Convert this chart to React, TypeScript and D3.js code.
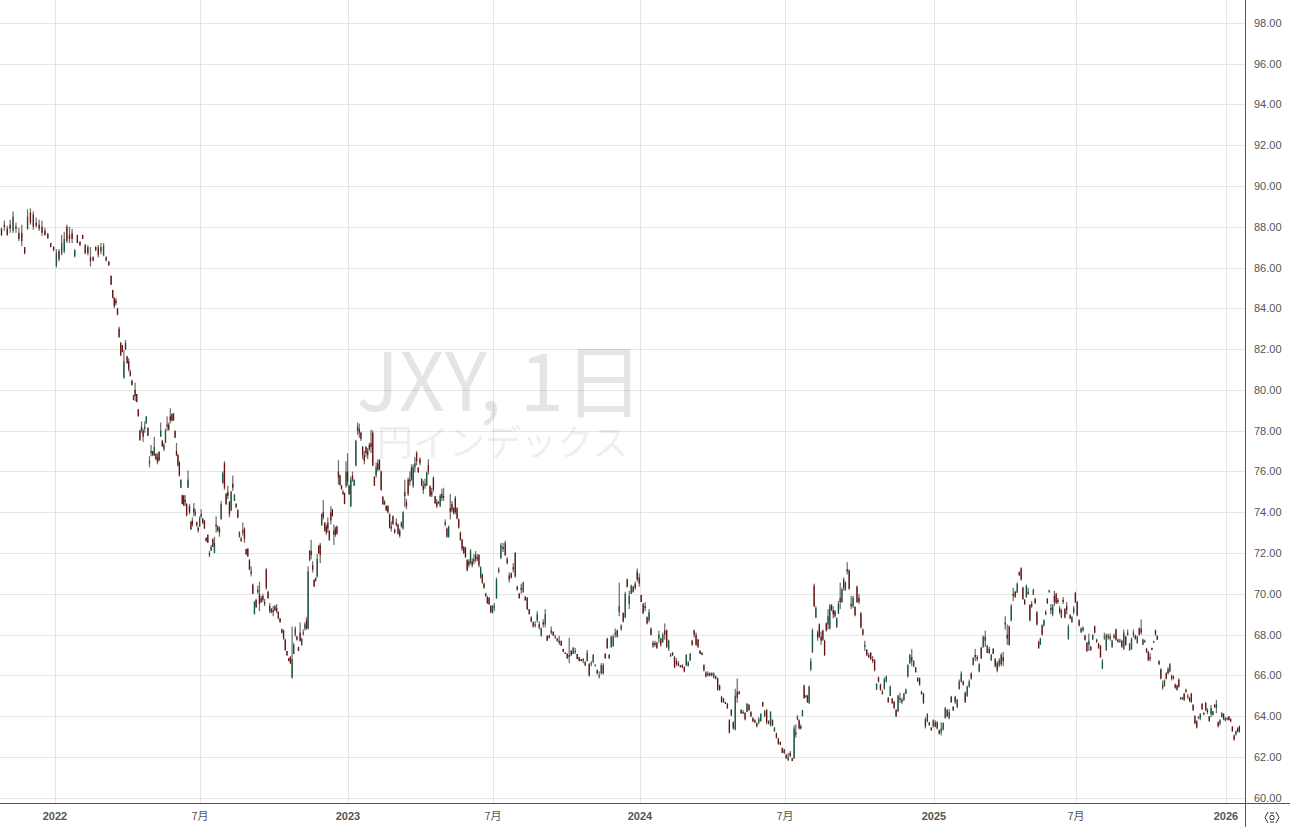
import React from "react";
import * as d3 from "d3";

// Each row: [high, low, open, close]
type Bar = number[];

const late2021: Bar[] = [[87.95,87.55,87.9,87.6],[88.3,87.8,88.1,88],[88.05,87.55,87.9,87.6],[88.35,87.7,88.1,87.9],[88.75,87.7,87.8,88.5],[88.2,87.7,88,87.9],[87.95,87.3,87.7,87.4],[88.1,87.05,87.7,87.3],[87,86.65,87,86.7],[88.85,87.85,87.9,88.5],[88.9,88.1,88.7,88.2],[88.75,87.85,88.6,88],[88.45,87.95,88.2,88.05],[88.35,87.8,88.1,87.9],[88.3,87.55,88,87.7],[87.95,87.55,87.8,87.6],[87.7,87.4,87.65,87.45],[87.2,87,87.2,87],[87.05,86.8,87,86.85]];

const h1of2022: Bar[] = [[86.9,86,86.1,86.7],[86.9,86.3,86.8,86.4],[87.6,86.6,86.7,87.2],[87.75,86.7,86.8,87.4],[88.1,87.2,88,87.3],[88,87.2,87.6,87.4],[87.9,87.2,87.7,87.4],[86.9,86.5,86.55,86.85],[87.6,87.2,87.6,87.2],[87.3,87.05,87.25,87.1],[87.6,87.4,87.6,87.4],[87.15,86.65,87.1,86.7],[87.1,86.6,87,86.7],[87,86.05,86.5,86.3],[86.55,86.3,86.5,86.35],[87.05,86.8,87,86.85],[87.1,86.5,87,86.6],[87.2,86.65,86.8,87],[87.2,86.55,86.6,87.05],[86.55,86.3,86.5,86.35],[86.3,86.1,86.3,86.1],
[85.6,85.15,85.6,85.15],[84.9,84.5,84.9,84.5],[84.55,84,84.5,84.1],[84.5,84.15,84.4,84.25],[84,83.65,84,83.7],[83.1,82.55,83,82.6],[82.35,81.65,82.3,81.7],[82.2,81.85,82.2,81.85],[81.95,80.55,80.6,81.4],[82.45,81.95,82.3,82],[81.65,81.3,81.65,81.3],[81.55,80.9,81.4,81],[81,80.65,80.9,80.7],[80.5,80.2,80.45,80.25],[79.75,79.5,79.5,79.75],[80.35,79.45,80,79.7],[79.8,79.4,79.8,79.4],[79.05,78.7,79.05,78.7],[78.05,77.5,78,77.55],[78.45,77.9,78.2,78],[78.1,77.45,78,77.7],[78.45,77.9,78.1,78.2],[78.7,78.35,78.35,78.7],[78.15,77.75,78.15,77.75],[76.75,76.2,76.4,76.5],[77.3,76.75,76.9,77],[77,76.75,77,76.8],[77.7,76.75,76.8,77.2],[76.9,76.55,76.85,76.6],[76.9,76.35,76.7,76.45],[77,76.5,76.95,76.55],[78.4,77.7,77.7,78],[77.55,77.2,77.5,77.25],[77.4,77,77.1,77.3],[78.1,77.4,77.4,78],[78.7,78,78.2,78.3],[78.4,78,78.3,78.05],[79.1,78.35,78.7,78.5],[78.85,78.45,78.8,78.5],[78.85,78.5,78.85,78.5],
[78,77.65,78,77.65],[77.4,76.75,77,76.8],[76.85,76.25,76.8,76.3],[76.5,75.75,76.45,75.8],[75.6,75.2,75.2,75.6],[74.85,74.4,74.85,74.4],[74.85,74.3,74.8,74.35],[74.85,74.3,74.6,74.5],[74.45,73.8,74.4,73.85],[76.05,75.2,75.2,75.6],[74.4,73.9,74.3,74],[73.55,73.15,73.55,73.15],[73.75,73.3,73.6,73.4],[74.45,73.8,74.2,74],[74.15,73.8,74,73.9],[73.55,73.3,73.5,73.35],[73.3,73,73.25,73.1],[73.8,73.3,73.3,73.7]];

const h2of2022: Bar[] = [[74.15,73.7,73.9,73.8],[73.7,73.45,73.7,73.45],[73.6,73.2,73.6,73.2],[72.75,72.55,72.75,72.6],[72.9,72.5,72.9,72.5],[72.1,71.8,71.9,72],[72.4,72.1,72.1,72.3],[72.7,72.3,72.7,72.3],[72.8,72,72,72.5],[73.8,73,73.4,73.3],[73.35,73.05,73.3,73.1],[73.3,72.8,73.2,73],[74.55,73.65,73.65,74.4],[76,75.4,75.45,75.9],[76.5,75.1,76.4,75.2],[74.95,74.35,74.9,74.4],[75.3,74.65,75,74.8],[74.55,73.75,74.5,73.9],[75.05,74.05,74.1,75],[75.8,75.05,75.4,75.2],[74.9,74.55,74.55,74.85],[74.45,74.2,74.4,74.25],[74.15,73.7,74.1,73.75],[73.05,72.75,72.8,73.05],[72.8,72.55,72.7,72.6],[73.5,72.85,73.1,73],[73.25,72.5,73.2,72.7],[72.2,71.9,72.2,71.95],[72.25,71.8,72.2,71.85],[71.7,71.15,71.65,71.2],[71.35,70.85,71.1,71],[70.5,70,70.45,70],[69.65,69,69,69.6],[69.75,69.3,69.7,69.35],[70.4,70,70.2,70.1],[70.6,69.15,70,69.5],
[69.9,69.55,69.8,69.6],[70,69.6,69.9,69.7],[69.75,69.4,69.6,69.5],[71.25,70.2,71.2,70.3],[70.15,69.75,70.1,69.8],[69.55,69.05,69.4,69.15],[69.3,69.05,69.25,69.1],[69.4,68.9,69.2,69.1],[69.45,69.15,69.4,69.2],[69.5,69.05,69.3,69.15],[69.15,68.75,69.1,68.8],[68.8,68.6,68.8,68.6],[68.3,68.05,68.25,68.1],[68.25,67.75,68.2,67.8],[67.8,67.2,67.75,67.25],[67.2,66.95,67.2,67],[66.85,66.7,66.85,66.7],[66.95,66.55,66.9,66.6],[68.4,65.85,65.9,66.8],[67.6,67.05,67.05,67.5],[68.4,67.9,68,68.3],[67.95,67.7,67.9,67.75],[67.4,67.2,67.4,67.2],[68.6,67.65,68.1,67.7],[67.85,67.45,67.5,67.8],[68.25,67.95,68.1,68.05],[68.6,68.2,68.3,68.5],[68.85,68.25,68.7,68.3],[71.35,68.25,68.3,71.1],[72.15,71.6,71.65,72.1],[72.65,71.7,72.1,71.9],[71.6,71.05,71.4,71.2],[70.7,70.35,70.7,70.35],[70.8,70.6,70.65,70.8],[71.95,70.8,70.85,71.7],[72.4,71.95,72.35,72],[72.5,71.5,72.4,71.9],[73.95,73.35,73.35,73.9],[74.6,73.65,74,73.75],[73.5,73.05,73.5,73.1],[73.4,72.9,73.3,73],[73.75,73,73.5,73.2],[73.1,72.6,73.1,72.65],[74.3,73.4,74,73.6],[74.15,73.8,74.15,73.8],[73.4,72.4,73.1,72.9],[73.3,72.8,73.2,72.9],[73.35,72.9,73.3,72.95],[76.55,75.35,76,75.7],[75.85,75.3,75.8,75.35],[75.35,75.1,75.3,75.15],[75.1,74.85,75,74.9],[74.95,74.4,74.95,74.4],[76.5,75.2,75.3,76],[76.9,75.3,76,75.5]];

const h1of2023: Bar[] = [[75.35,74.85,75.3,74.9],[75.75,74.25,74.3,75.6],[76,75.5,75.8,75.6],[75.6,75.3,75.3,75.6],[77.55,76.25,76.3,77.5],[78.4,77.8,78,78.2],[78.35,77.65,78.1,77.9],[77.95,77.5,77.9,77.6],[77.25,76.6,77.2,76.8],[77,76.35,76.8,76.5],[77.25,76.7,77.2,76.9],[77.15,76.6,77,76.8],[77.4,77,77.3,77.1],[78.05,76.9,77.4,77.2],[78,76.25,77.9,76.3],[75.75,75.3,75.75,75.3],[76.45,75.7,75.8,76.2],[76.6,76,76.4,76.1],[76.6,76.05,76.55,76.1],[76.05,75.05,76,75.1],[74.8,74.35,74.75,74.4],[74.6,74.35,74.5,74.4],[74.35,74.05,74.3,74.1],[74.35,73.95,74.3,74],[73.95,73.2,73.9,73.25],[73.55,73.05,73.3,73.2],[73.85,73.4,73.8,73.4],[73.2,72.95,73.15,73],[73.7,73.3,73.5,73.4],[73.45,72.9,73.4,72.95],[73.2,72.75,73.1,72.85],
[73.55,73.25,73.3,73.5],[74.05,73.15,73.2,74],[75.6,74.25,75,74.8],[74.65,74.15,74.5,74.3],[75.7,74.8,75.6,74.9],[76,75.3,75.6,75.5],[76.35,75.55,76.2,75.6],[76.35,75.2,75.3,76.2],[76.7,75.95,76.2,76.4],[77,76.3,76.9,76.5],[76.2,75.95,76.2,75.95],[76.7,76.3,76.6,76.4],[75.65,75.3,75.65,75.3],[75.55,74.9,75.3,75.1],[75.65,75.15,75.4,75.3],[76,75.3,75.3,75.95],[76.6,75.85,76.3,76],[75.3,74.75,75.3,74.8],[75.2,74.75,75,74.85],[75.75,75,75.7,75.1],[74.8,74.4,74.8,74.45],[74.65,74.2,74.5,74.3],[74.55,74.4,74.5,74.45],[74.9,74.25,74.3,74.8],[75.15,74.55,74.9,74.7],[75.2,74.55,74.8,74.7],[73.65,73.3,73.5,73.4],[73.25,72.75,73.2,72.8],[73.35,72.75,72.8,73.3],[74.9,73.65,74.2,74],[74.55,74,74.4,74.1],[74.25,73.9,74.2,73.95],[74.8,73.9,74.7,74],[74.25,73.65,74.2,73.7],[73.7,73.2,73.65,73.25],[73.05,72.6,73,72.65],[72.7,72.1,72.65,72.2],[72.35,71.95,72.3,72],[72.3,71.75,72.25,71.8],[71.7,71.1,71.65,71.15],[71.7,71.3,71.6,71.4],[72.2,71.45,71.5,72.1],[71.75,71.3,71.6,71.4],[71.95,71.45,71.7,71.6],[72.1,71.55,71.9,71.7],[71.95,71.6,71.8,71.7],[71.95,71.3,71.9,71.4],[71.35,70.75,70.8,71.3],[71,70.5,70.95,70.55],[70.55,70.25,70.5,70.3],[70.05,69.85,70,69.9],[69.9,69.5,69.85,69.55],[69.85,69.45,69.8,69.5],[69.45,69.05,69.4,69.1],[69.45,69.05,69.05,69.4]];

const h2of2023: Bar[] = [[69.55,69.15,69.3,69.4],[70.8,69.75,69.8,70.7],[71.3,71,71.2,71.1],[72.5,71.7,71.75,72.4],[72.5,72.05,72.3,72.2],[72.6,71.85,72.5,71.9],[71.8,71.45,71.7,71.5],[71.05,70.55,70.9,70.7],[71.05,70.75,71,70.8],[71.5,71.05,71.3,71.2],[72.05,70.8,72,70.85],[70.4,70.15,70.35,70.2],[70.05,69.75,70,69.8],[70.5,70,70.3,70.2],[70.6,70.05,70.1,70.55],[69.9,69.65,69.85,69.7],[69.85,69.2,69.8,69.25],[69.25,69,69.25,69],[68.9,68.6,68.85,68.65],[68.65,68.35,68.6,68.4],[68.65,68.35,68.5,68.45],[69.15,68.6,68.7,69],[68.65,68.25,68.5,68.35],[68.35,67.9,67.95,68.3],[68.75,68.35,68.6,68.5],[69.25,68.35,68.5,69],[67.95,67.7,67.95,67.7],[68,67.8,67.95,67.85],[68.4,68,68.2,68.1],[68.15,67.95,68.15,67.95],[68,67.8,67.9,67.85],[67.85,67.65,67.8,67.7],[67.95,67.5,67.7,67.6],[67.7,67.45,67.7,67.45],
[67.3,67.15,67.3,67.15],[67.15,67.05,67.1,67.05],[67.1,66.8,67.05,66.85],[67.85,66.6,67,66.9],[67.25,66.95,67.2,67],[67.4,67.05,67.05,67.35],[67.35,67.05,67.2,67.15],[67.05,66.8,67.05,66.8],[66.9,66.7,66.9,66.7],[66.8,66.7,66.8,66.7],[66.85,66.6,66.7,66.8],[66.7,66.45,66.65,66.5],[67.25,66.7,66.7,67.1],[66.6,65.95,66.55,66],[66.7,66.45,66.55,66.6],[67.05,66.6,66.65,67],[66.55,66.45,66.5,66.45],[66.3,66.05,66.25,66.1],[66.2,65.85,66,65.95],[66.6,66.05,66.1,66.5],[66.6,66.05,66.5,66.1],[67.1,66.8,67.05,66.85],[67.85,67.3,67.8,67.35],[67.05,66.8,67,66.85],[67.95,67.35,67.4,67.9],[68,67.4,67.45,67.9],[68.3,67.85,68,68.1],[68.25,67.85,68.2,67.9],[70.55,68.9,69.1,69.4],[68.5,68.2,68.25,68.45],[69.1,68.6,69.05,68.65],[70.1,68.8,68.85,70],[70.75,70.3,70.7,70.35],[70.15,69.25,69.5,69.9],[70.45,70,70,70.4],[70.4,70.05,70.35,70.1],[70.6,70.2,70.5,70.3],[71.25,70.6,71.1,70.7],[71,70.35,70.8,70.5]];

const h1of2024: Bar[] = [[69.95,69.6,69.95,69.6],[69.55,69,69.5,69.05],[69.6,69.15,69.4,69.3],[68.9,68.5,68.85,68.55],[69.25,68.6,68.7,69.1],[68.35,67.95,68.3,68],[67.7,67.35,67.6,67.45],[67.7,67.4,67.6,67.5],[67.65,67.3,67.6,67.35],[68.2,67.6,67.8,68],[67.85,67.4,67.8,67.5],[68.1,67.6,67.65,68],[68.55,67.75,68.2,68],[68.25,67.35,68.2,67.4],[67.75,67.2,67.3,67.7],[67.1,66.9,67,66.95],[67.15,66.95,67.1,67],[66.95,66.35,66.9,66.4],[66.85,66.45,66.7,66.55],[66.7,66.45,66.6,66.5],[66.5,66.4,66.5,66.4],[66.55,66.35,66.5,66.4],[66.45,66.15,66.4,66.2],[67.05,66.45,66.5,67],[66.7,66.45,66.45,66.65],[67.1,66.7,66.75,67.05],[67.75,67.45,67.7,67.5],[68.25,67.85,68.2,68],[68.1,67.45,68,67.5],[67.8,67.35,67.75,67.4],[67.25,67.05,67.2,67.05],[67.15,67,67.1,67],[66.55,66.2,66.5,66.25],[66.2,65.9,66.15,65.95],[66.2,65.95,66.1,66],[66.15,65.95,66.1,66],[66.15,65.95,66.1,66],[66.15,65.85,65.9,66.1],[66,65.8,65.95,65.85],[65.9,65.25,65.85,65.3],[65.55,65.25,65.5,65.3],[65,64.65,64.95,64.7],[64.9,64.65,64.85,64.7],[64.7,64.6,64.7,64.6],[64.65,64.35,64.6,64.4],[63.85,63.15,63.8,63.2],[64.35,64,64.3,64.05],[63.75,63.35,63.7,63.4],[65.35,63.3,63.35,65],[65.85,64.65,65.2,64.9],[65.25,65.05,65.2,65.1],[64.35,64.1,64.3,64.15],[64.3,64.1,64.2,64.15],
[64.2,63.8,64.15,63.85],[64.65,64.2,64.2,64.6],[64.6,64.25,64.55,64.3],[64.25,63.95,64.2,64],[63.95,63.7,63.9,63.75],[63.85,63.65,63.8,63.7],[63.7,63.45,63.65,63.5],[63.95,63.6,63.7,63.85],[64.15,63.75,63.75,64.1],[64.7,64.45,64.7,64.5],[64.3,63.95,64,64.25],[64.35,63.6,64.3,63.7],[63.8,63.6,63.75,63.65],[64.25,63.5,63.55,64.2],[63.85,63.5,63.8,63.55],[63.45,63.25,63.25,63.45],[63.2,62.9,63.15,62.95],[62.95,62.6,62.9,62.65],[62.75,62.6,62.75,62.6],[62.45,62.2,62.45,62.2],[62.4,62.15,62.35,62.2]];

const h2of2024: Bar[] = [[62.15,61.9,62.1,61.95],[62.2,61.8,61.85,62],[62.3,62,62.2,62.05],[61.95,61.8,61.95,61.8],[63.55,61.9,61.95,63.4],[63.6,62.95,63.2,63.1],[64.05,63.8,63.95,63.85],[63.85,63.35,63.8,63.4],[63.6,63.35,63.5,63.4],[64.3,64,64,64.3],[65.55,64.85,65.5,64.9],[65.05,64.9,65,64.95],[65.05,64.65,65,64.7],[65.5,64.6,64.65,65.45],[66.85,66.2,66.3,66.7],[68.3,67.1,67.15,68.2],[70.5,69.35,70.4,69.4],[69.4,68.8,68.85,69.3],[68.2,67.7,68.1,67.85],[68.55,67.85,68.5,67.9],[68.15,67.5,67.9,67.7],[68.25,67.7,68.2,67.75],[67.75,66.95,67.7,67],[68.6,68.15,68.55,68.2],[69.25,68.25,68.5,68.9],[69.5,68.25,68.3,69.4],[69.5,69.15,69.45,69.2],[69.4,68.8,69.2,69],[69.2,68.85,69.15,68.9],[68.85,68.35,68.35,68.8],[69.65,69,69.05,69.5],[70.55,69.25,69.8,69.6],[70.3,69.55,69.6,70.2],[70.8,70.15,70.7,70.3],[70.6,70.15,70.2,70.55],[71.55,70.95,71.2,71.1],[71.2,70.2,71.15,70.25],[69.9,69.25,69.5,69.4],[69.9,69.3,69.4,69.8],[69.4,68.9,69.35,68.95],[70.4,69.55,70.35,69.6],[70,69.5,69.8,69.6],[69.1,68.3,69.05,68.35],[68.3,67.95,68.25,68],[67.7,67.2,67.4,67.5],[67.3,66.95,67.25,67],[67.1,66.85,67,66.9],[67.15,66.75,67.1,66.8],[66.95,66.6,66.8,66.7],[66.8,66.2,66.75,66.25],[65.6,65.3,65.3,65.6],[65.95,65.65,65.9,65.7],[65.6,65.25,65.55,65.3],[65.3,65.05,65.2,65.1],[65.9,65.3,65.35,65.8],[66,65.65,65.7,65.95],[64.95,64.65,64.9,64.7],[65.5,65,65,65.45],[64.9,64.6,64.85,64.65],[64.75,64.35,64.7,64.4],[64.35,63.95,64.3,64],[65.05,64.2,64.25,65],[65.15,64.65,64.8,64.9],[64.9,64.6,64.8,64.7],[65.15,64.75,64.8,65.1],[65.35,65.1,65.1,65.3],[66.55,65.9,65.95,66.5],[67.05,66.55,66.6,67],[67.3,66.45,66.9,66.7],[66.75,66.4,66.45,66.7],[66.4,66.15,66.4,66.15],[65.9,65.7,65.9,65.7],[65.9,65.5,65.85,65.55],[65.25,65.05,65.2,65.1],[65.15,64.6,65.1,64.65],[63.95,63.4,63.85,63.5],[64.15,63.7,63.75,64.1],[63.7,63.55,63.7,63.55],[63.45,63.3,63.45,63.3],[63.85,63.45,63.5,63.8]];

const h1of2025: Bar[] = [[63.8,63.45,63.7,63.5],[63.75,63.35,63.7,63.4],[63.35,63.1,63.3,63.15],[63.7,63.05,63.2,63.4],[63.7,63.3,63.35,63.65],[64.45,63.9,63.9,64.4],[64.35,63.95,64.3,64],[64.35,63.85,63.9,64.2],[65,64.65,64.95,64.7],[64.5,64.25,64.45,64.3],[65,64.6,64.95,64.7],[64.85,64.4,64.45,64.8],[65.8,65.3,65.35,65.7],[66.2,65.65,65.7,66.1],[65.75,65.5,65.7,65.55],[65.2,64.65,65.15,64.7],[65.5,64.95,65,65.45],[65.8,65.4,65.45,65.7],[66.15,65.8,66.1,65.85],[66.9,66.5,66.5,66.85],[67.3,66.7,67,66.9],[67,66.7,66.9,66.8],[66.6,66.15,66.2,66.55],[67.4,66.8,67.35,66.85],[67.95,67.35,67.4,67.9],[68.2,67.4,67.9,67.7],[67.5,67.1,67.1,67.45],[67.4,67.05,67.3,67.1],[67.05,66.7,66.75,67],[67.35,67.05,67.3,67.05],[66.85,66.4,66.8,66.45],[66.7,66.15,66.6,66.25],[66.85,66.4,66.5,66.75],[67.1,66.45,67,66.55],[67.15,66.45,66.9,66.7],[68.9,68.25,68.6,68.5],[68.5,67.5,68,67.8],[68.45,67.45,68.4,67.5],[69.5,68.65,68.7,69.4],[70.3,69.65,70,69.9],[70.15,69.8,70.1,69.85],[70.55,70.05,70.05,70.5],[71.1,70.9,71.05,70.9],[71.3,70.65,71.25,70.7],[70.35,69.7,70.3,69.75],[69.75,69.45,69.7,69.5],[70.45,69.8,69.85,70.4],[70.3,69.95,70.1,70],[69.5,68.65,69.45,68.7],[69.65,69.3,69.5,69.4],[70.25,69.95,69.95,70.2],[69.8,69.5,69.75,69.55],[69.15,68.45,69.1,68.5],[67.7,67.3,67.65,67.35],[67.85,67.5,67.5,67.8],[68.5,67.95,68.45,68],[68.75,68.4,68.45,68.7],[69.2,68.95,69.1,69],[69.8,69.5,69.75,69.55],[70.2,70.05,70.15,70.1],[69.5,69,69.3,69.2],[69.5,68.9,69,69.4],[70.15,69.4,69.9,69.6],[70.05,69.5,70,69.55],[69.8,69.5,69.7,69.6],[69.4,69,69.3,69.1],[69.25,68.8,68.85,69.2],[69.85,69.5,69.7,69.6],[69.3,68.8,69.25,68.85],[69.6,69,69.4,69.2],[68.5,67.75,67.8,68.4],[69,68.75,68.95,68.8],[68.9,68.6,68.6,68.85],[69.4,69,69.1,69.3],[70.1,69.55,70.05,69.6]];

const h2of2025: Bar[] = [[69.65,68.9,69.6,68.95],[68.75,68.4,68.7,68.45],[68.35,68.1,68.1,68.3],[68.4,68.15,68.2,68.35],[68,67.7,67.95,67.75],[67.65,67.15,67.6,67.2],[68.05,67.2,67.5,67.7],
[67.45,67.2,67.4,67.25],[68,67.75,67.75,68],[68.45,68.05,68.4,68.1],[67.8,67.6,67.75,67.65],[67.6,67.3,67.55,67.35],[67.5,66.85,67.45,66.9],[66.8,66.3,66.35,66.7],[68.1,67.75,67.9,67.85],[68.05,67.2,67.25,68],[68.05,67.75,67.95,67.85],[68.05,67.7,67.9,67.8],[67.75,67.35,67.4,67.7],[68.05,67.8,67.95,67.85],[68.3,67.7,68.25,67.75],[67.8,67.6,67.75,67.65],[67.8,67.6,67.7,67.65],[67.75,67.35,67.7,67.4],[68.25,67.25,67.3,68.1],[67.95,67.45,67.9,67.5],[68.25,67.95,68.1,68],[67.6,67.2,67.25,67.55],[67.85,67.25,67.3,67.8],[68.25,67.85,68.1,68],[68,67.75,67.95,67.8],[67.95,67.55,67.6,67.9],[68.35,67.95,68.3,68],[68.75,68,68.3,68.1],[67.8,67.5,67.5,67.75],[67.75,67.6,67.7,67.65],[67.35,67.1,67.3,67.15],[67.2,66.7,67.15,66.75],[67.1,66.7,66.9,66.8],[67.35,67.25,67.35,67.25],[67.7,67.6,67.65,67.6],[68.25,67.95,68.2,68],[67.95,67.75,67.95,67.75],[66.75,66.5,66.7,66.55],[66.35,65.8,66.3,65.85],[65.75,65.3,65.5,65.4],[65.8,65.45,65.5,65.75],[66.15,65.8,66.1,65.85],[66.4,66.05,66.3,66.1],[66.6,66.15,66.2,66.55],[66.05,65.75,65.95,65.85],[66,65.8,65.95,65.85],[65.6,65.35,65.55,65.4],[65.55,65.25,65.5,65.3],[65.85,65.4,65.8,65.45],[64.95,64.8,64.85,64.9],[64.95,64.8,64.9,64.85],[65.15,64.75,65.1,64.8],[65.35,65.15,65.3,65.2],[65.1,64.85,65,64.95],[64.95,64.7,64.9,64.75],[65.15,64.65,65.1,64.7],[64.6,64.25,64.55,64.3],[64.05,63.6,64,63.65],[63.8,63.4,63.75,63.45],[64,63.85,63.95,63.9],[64.15,63.8,63.9,64.1],[64.65,64.3,64.6,64.35],[64.2,64.05,64.15,64.1],[64.7,64.25,64.65,64.3],[64.4,64.1,64.3,64.2],[64,63.75,64,63.75],[64.55,63.95,64.1,64.4],[64.25,64.05,64.05,64.25],[64.6,64.4,64.55,64.45],[64.8,64.15,64.4,64.6],[63.75,63.45,63.7,63.5],[63.85,63.55,63.65,63.8],[64.2,63.95,63.95,64.15],[64.15,63.8,64.1,63.85],[63.95,63.75,63.8,63.9]];

const early2026: Bar[] = [[63.95,63.8,63.9,63.85],[64,63.8,64,63.8],[63.9,63.7,63.85,63.75],[63.5,63.25,63.5,63.25],[63.1,62.8,63.05,62.85],[63.3,63.05,63.1,63.25],[63.45,63.2,63.4,63.25],[63.55,63.2,63.5,63.25]];

const periods = [late2021, h1of2022, h2of2022, h1of2023, h2of2023, h1of2024, h2of2024, h1of2025, h2of2025, early2026];
const timeLabels = ["2022", "7月", "2023", "7月", "2024", "7月", "2025", "7月", "2026"];
const priceTicks = d3.range(60, 100, 2);

const W = 1290, H = 827, AXIS_X = 1245, AXIS_Y = 803;
const boundaryPx = [0, 55, 200, 348, 493, 640, 785, 934, 1076, 1226, 1240];
// Rows whose horizontal position is pinned inside a period (period -> [row, pixel] pairs), because trading gaps make spacing uneven.
const pins: Record<number, number[][]> = {
  1: [[21, 110], [61, 174]],
  2: [[36, 260], [54, 291], [64, 307]],
  4: [[5, 504]],
  6: [[4, 793], [16, 813], [35, 846]],
  7: [[43, 1020]],
  8: [[33, 1140]],
};
const y = d3.scaleLinear().domain([60, 98]).range([797.78, 22.78]);

const UP = "#14583a", DOWN = "#6b100c", WICK = "#707070", GRID = "#e6e6e6", AXIS = "#555", TEXT = "#555";
const SANS = "'Liberation Sans', Arial, sans-serif";
const CJK = "'Noto Sans CJK JP', 'Liberation Sans', sans-serif";

function rowScale(p: number, n: number) {
  const ps = pins[p] ?? [];
  return d3.scaleLinear()
    .domain([0, ...ps.map((q) => q[0]), n])
    .range([boundaryPx[p], ...ps.map((q) => q[1]), boundaryPx[p + 1]]);
}

export default function App() {
  const candles = periods.flatMap((rows, p) => {
    const sx = rowScale(p, rows.length);
    return rows.map((r, i) => ({ px: sx(i + 0.3), h: r[0], l: r[1], o: r[2], c: r[3] }));
  });
  const barW = 1.25;
  return (
    <svg width={W} height={H} style={{ position: "absolute", left: 0, top: 0, background: "#fff", display: "block" }}>
      <g shapeRendering="crispEdges">
        {priceTicks.map((t) => (
          <line key={t} x1={0} x2={AXIS_X} y1={Math.round(y(t)) + 0.5} y2={Math.round(y(t)) + 0.5} stroke={GRID} />
        ))}
        {boundaryPx.slice(1, -1).map((b) => (
          <line key={b} x1={b + 0.5} x2={b + 0.5} y1={0} y2={AXIS_Y} stroke={GRID} />
        ))}
      </g>
      <text x={500} y={411} textAnchor="middle" fontFamily={CJK} fontSize={80} fill="#000" fillOpacity={0.1}>JXY, 1日</text>
      <text x={502.5} y={456} textAnchor="middle" fontFamily={CJK} fontSize={36} fill="#000" fillOpacity={0.085}>円インデックス</text>
      <g>
        {candles.map((d, i) => (
          <g key={i}>
            <rect x={d.px} width={barW} y={y(d.h)} height={Math.max(1, y(d.l) - y(d.h))} fill={WICK} />
            <rect x={d.px} width={barW} y={y(Math.max(d.o, d.c))} height={Math.max(1, Math.abs(y(d.o) - y(d.c)))} fill={d.c >= d.o ? UP : DOWN} />
          </g>
        ))}
      </g>
      <g shapeRendering="crispEdges" stroke={AXIS}>
        <line x1={AXIS_X + 0.5} x2={AXIS_X + 0.5} y1={0} y2={H} />
        <line x1={0} x2={W} y1={AXIS_Y + 0.5} y2={AXIS_Y + 0.5} />
      </g>
      {priceTicks.map((t) => (
        <text key={t} x={1254} y={y(t) + 4} fontFamily={SANS} fontSize={11} fill={TEXT}>{t.toFixed(2)}</text>
      ))}
      {timeLabels.map((s, i) => (
        <text key={i} x={boundaryPx[i + 1]} y={820} textAnchor="middle" fontFamily={s.includes("月") ? CJK : SANS} fontSize={11}
          fontWeight={s.includes("月") ? 400 : 700} fill={TEXT}>{s}</text>
      ))}
      <g fill="none" stroke="#333" strokeWidth={1}>
        <path d="M1268 812 L1265 817.5 L1268 823" />
        <path d="M1276 812 L1279 817.5 L1276 823" />
        <path d="M1270 813 L1274 813 M1270 822 L1274 822" />
        <circle cx={1272} cy={817.5} r={2.2} />
      </g>
    </svg>
  );
}
